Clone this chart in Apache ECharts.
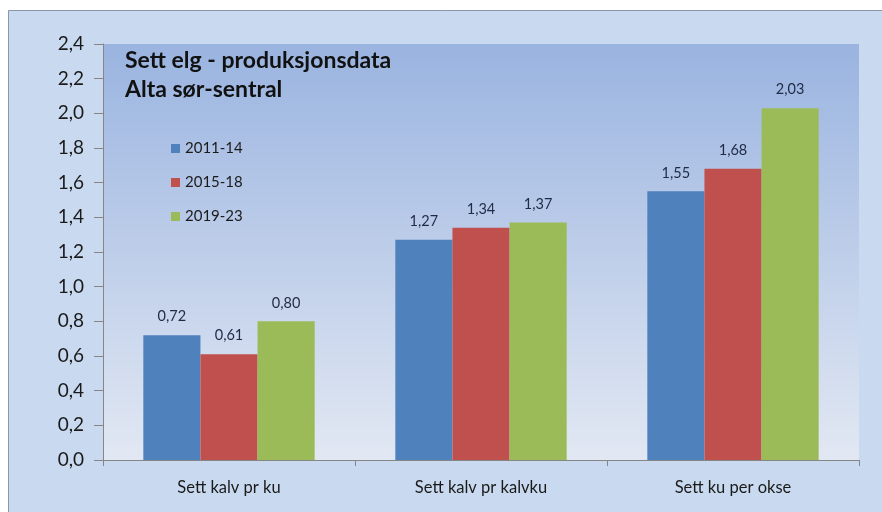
<!DOCTYPE html>
<html>
<head>
<meta charset="utf-8">
<script src="https://cdn.jsdelivr.net/npm/echarts@6/dist/echarts.min.js"></script>
<style>
  html, body { margin: 0; padding: 0; background: #fff; }
  #main { width: 882px; height: 512px; }
</style>
</head>
<body>
<div id="main"></div>
<script>
var categories = ['Sett kalv pr ku', 'Sett kalv pr kalvku', 'Sett ku per okse'];
var periods = ['2011-14', '2015-18', '2019-23'];
var values2011 = [0.72, 1.27, 1.55];
var values2015 = [0.61, 1.34, 1.68];
var values2019 = [0.80, 1.37, 2.03];
var colors = ['#4f81bd', '#c0504d', '#9bbb59'];

var fontFam = 'Lato, "Open Sans", sans-serif';

function komma(v, d) {
    return v.toFixed(d).replace('.', ',');
}

var myChart = echarts.init(document.getElementById('main'));

var seriesData = [values2011, values2015, values2019];
var series = [];
for (var i = 0; i < periods.length; i++) {
    series.push({
        name: periods[i],
        type: 'bar',
        data: seriesData[i],
        barGap: '0%',
        barCategoryGap: '32%',
        itemStyle: { color: colors[i] },
        label: {
            show: true,
            position: 'top',
            distance: 11,
            color: '#1f2a44',
            fontSize: 14.5,
            fontFamily: fontFam,
            formatter: function (p) { return komma(p.value, 2); }
        }
    });
}

var option = {
    backgroundColor: '#ffffff',
    textStyle: { fontFamily: fontFam },
    graphic: [
        {
            type: 'rect',
            z: -10,
            shape: { x: 8.5, y: 10.5, width: 880, height: 510 },
            style: { fill: '#c9daf0', stroke: '#8a96a8', lineWidth: 1 }
        }
    ],
    title: {
        text: 'Sett elg - produksjonsdata\nAlta sør-sentral',
        left: 120,
        top: 41,
        textStyle: {
            fontSize: 23,
            fontWeight: 'bold',
            color: '#111111',
            lineHeight: 29,
            fontFamily: fontFam
        }
    },
    legend: {
        show: true,
        orient: 'vertical',
        left: 166,
        top: 136,
        itemWidth: 9,
        itemHeight: 9,
        itemGap: 19,
        icon: 'rect',
        textStyle: { fontSize: 15, color: '#1a1a1a', fontFamily: fontFam },
        data: periods
    },
    grid: {
        left: 103,
        right: 23,
        top: 44,
        bottom: 52,
        show: true,
        borderWidth: 0,
        backgroundColor: {
            type: 'linear', x: 0, y: 0, x2: 0, y2: 1,
            colorStops: [
                { offset: 0, color: '#9ab4e0' },
                { offset: 1, color: '#e2e8f3' }
            ]
        }
    },
    xAxis: {
        type: 'category',
        data: categories,
        axisLine: { lineStyle: { color: '#868686' } },
        axisTick: { show: true, length: 6, lineStyle: { color: '#868686' } },
        axisLabel: { fontSize: 16.5, color: '#1a1a1a', margin: 19, fontFamily: fontFam }
    },
    yAxis: {
        type: 'value',
        min: 0,
        max: 2.4,
        interval: 0.2,
        axisLine: { show: true, lineStyle: { color: '#868686' } },
        axisTick: { show: true, length: 9, lineStyle: { color: '#868686' } },
        splitLine: { show: false },
        axisLabel: {
            fontSize: 19,
            color: '#1a1a1a',
            margin: 19,
            fontFamily: fontFam,
            formatter: function (v) { return komma(v, 1); }
        }
    },
    series: series
};

myChart.setOption(option);
</script>
</body>
</html>
